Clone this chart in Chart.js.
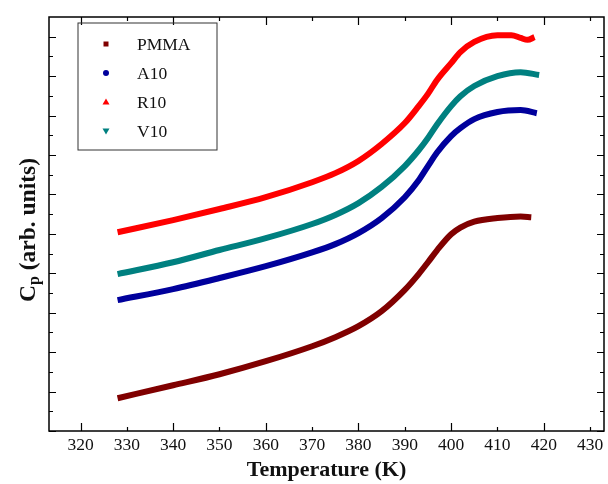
<!DOCTYPE html>
<html>
<head>
<meta charset="utf-8">
<script src="https://cdn.jsdelivr.net/npm/chart.js@4.4.1/dist/chart.umd.min.js"></script>
<style>
	html, body { margin: 0; padding: 0; background: #fff; }
	#wrap { width: 608px; height: 484px; }
</style>
</head>
<body>
<div id="wrap"><canvas id="cp-chart"></canvas></div>
<script>
// series data
const seriesLabels = [ 'PMMA', 'A10', 'R10', 'V10' ];
const seriesColors = [ '#800000', '#00009c', '#ff0000', '#008080' ];
const seriesMarkers = [ 'rect', 'circle', 'triangle', 'triangleDown' ];

const pmmaT = [ 328, 340, 350, 360, 370, 375, 380, 385, 390, 393, 395, 397, 400, 402, 405, 410, 415, 417.3 ];
const pmmaCp = [ 0.83, 1.16, 1.44, 1.77, 2.15, 2.38, 2.66, 3.04, 3.58, 3.98, 4.28, 4.59, 4.99, 5.16, 5.31, 5.40, 5.44, 5.42 ];

const a10T = [ 328, 340, 350, 360, 370, 375, 380, 385, 390, 393, 395, 397, 400, 402, 405, 410, 415, 418.5 ];
const a10Cp = [ 3.32, 3.60, 3.88, 4.18, 4.53, 4.74, 5.02, 5.40, 5.93, 6.36, 6.72, 7.07, 7.48, 7.68, 7.91, 8.09, 8.14, 8.06 ];

const r10T = [ 328, 340, 350, 360, 370, 375, 380, 385, 390, 393, 395, 397, 400, 402, 405, 410, 413, 415, 416.5, 418 ];
const r10Cp = [ 5.04, 5.35, 5.63, 5.93, 6.31, 6.54, 6.85, 7.28, 7.81, 8.24, 8.55, 8.91, 9.33, 9.61, 9.87, 10.04, 10.04, 9.97, 9.92, 9.99 ];

const v10T = [ 328, 340, 350, 360, 370, 375, 380, 385, 390, 393, 395, 397, 400, 402, 405, 410, 415, 419 ];
const v10Cp = [ 3.98, 4.28, 4.59, 4.89, 5.25, 5.48, 5.78, 6.19, 6.72, 7.12, 7.43, 7.78, 8.24, 8.49, 8.75, 9.00, 9.10, 9.03 ];

// axis ticks
const xTicks = [ 320, 330, 340, 350, 360, 370, 380, 390, 400, 410, 420, 430 ];
const yTicks = [ 0, 0.5, 1, 1.5, 2, 2.5, 3, 3.5, 4, 4.5, 5, 5.5, 6, 6.5, 7, 7.5, 8, 8.5, 9, 9.5, 10 ];

const serifFont = '"Liberation Serif", "Times New Roman", serif';

function toPoints( xs, ys ) {
	return xs.map( ( x, i ) => ( { x: x, y: ys[ i ] } ) );
}

const seriesData = [
	toPoints( pmmaT, pmmaCp ),
	toPoints( a10T, a10Cp ),
	toPoints( r10T, r10Cp ),
	toPoints( v10T, v10Cp ),
];

// frame, inward ticks, legend box and y title
const framePlugin = {
	id: 'frame',
	afterDraw( chart ) {
		const c = chart.ctx;
		const area = chart.chartArea;
		const xs = chart.scales.x;
		const ys = chart.scales.y;
		c.save();
		c.strokeStyle = '#000';
		c.lineWidth = 1.5;
		c.strokeRect( area.left, area.top, area.right - area.left, area.bottom - area.top );

		c.lineWidth = 1.2;
		c.beginPath();
		xTicks.forEach( ( v, i ) => {
			const px = Math.round( xs.getPixelForValue( v ) ) + 0.5;
			const len = i % 2 === 0 ? 8 : 4;
			c.moveTo( px, area.bottom );
			c.lineTo( px, area.bottom - len );
			c.moveTo( px, area.top );
			c.lineTo( px, area.top + len );
		} );
		yTicks.forEach( ( v, i ) => {
			const py = Math.round( ys.getPixelForValue( v ) ) + 0.5;
			const len = i % 2 === 0 ? 7 : 4;
			c.moveTo( area.left, py );
			c.lineTo( area.left + len, py );
			c.moveTo( area.right, py );
			c.lineTo( area.right - len, py );
		} );
		c.stroke();

		// legend
		c.lineWidth = 1;
		c.strokeStyle = '#333';
		c.strokeRect( 78, 23, 139, 127 );
		const rowsY = [ 44, 73, 102, 131 ];
		c.font = '17.5px ' + serifFont;
		c.textBaseline = 'middle';
		c.textAlign = 'left';
		seriesLabels.forEach( ( label, i ) => {
			const mx = 106;
			const my = rowsY[ i ];
			c.fillStyle = seriesColors[ i ];
			c.beginPath();
			if ( seriesMarkers[ i ] === 'rect' ) {
				c.rect( mx - 2.5, my - 2.5, 5, 5 );
			} else if ( seriesMarkers[ i ] === 'circle' ) {
				c.arc( mx, my, 3, 0, Math.PI * 2 );
			} else if ( seriesMarkers[ i ] === 'triangle' ) {
				c.moveTo( mx, my - 3.5 );
				c.lineTo( mx + 3.5, my + 2.5 );
				c.lineTo( mx - 3.5, my + 2.5 );
				c.closePath();
			} else {
				c.moveTo( mx, my + 3.5 );
				c.lineTo( mx + 3.5, my - 2.5 );
				c.lineTo( mx - 3.5, my - 2.5 );
				c.closePath();
			}
			c.fill();
			c.fillStyle = '#111';
			c.fillText( label, 137, my + 1 );
		} );

		// y axis title with subscript
		c.translate( 27, 230 );
		c.rotate( -Math.PI / 2 );
		c.fillStyle = '#111';
		c.textBaseline = 'alphabetic';
		const main = 'C';
		const sub = 'p';
		const rest = ' (arb. units)';
		c.font = 'bold 23.5px ' + serifFont;
		const wMain = c.measureText( main ).width;
		const wRest = c.measureText( rest ).width;
		c.font = 'bold 16px ' + serifFont;
		const wSub = c.measureText( sub ).width;
		let x0 = -( wMain + wSub + wRest ) / 2;
		c.font = 'bold 23.5px ' + serifFont;
		c.fillText( main, x0, 8 );
		x0 += wMain;
		c.font = 'bold 16px ' + serifFont;
		c.fillText( sub, x0, 12 );
		x0 += wSub;
		c.font = 'bold 23.5px ' + serifFont;
		c.fillText( rest, x0, 8 );
		c.restore();
	},
};

new Chart( document.getElementById( 'cp-chart' ), {
	type: 'scatter',
	data: {
		datasets: seriesLabels.map( ( label, i ) => ( {
			label: label,
			data: seriesData[ i ],
			showLine: true,
			borderColor: seriesColors[ i ],
			backgroundColor: seriesColors[ i ],
			borderWidth: 6,
			pointRadius: 0,
			tension: 0.4,
			cubicInterpolationMode: 'monotone',
		} ) ),
	},
	options: {
		responsive: true,
		maintainAspectRatio: false,
		animation: false,
		layout: { padding: { top: 17, right: 4, left: 0, bottom: 0 } },
		plugins: {
			legend: { display: false },
			tooltip: { enabled: false },
		},
		scales: {
			x: {
				type: 'linear',
				min: 313.2,
				max: 433,
				afterFit: scale => { scale.height = 53; },
				afterBuildTicks: scale => { scale.ticks = xTicks.map( v => ( { value: v } ) ); },
				grid: { display: false, drawTicks: false },
				border: { display: false },
				ticks: {
					padding: 4,
					color: '#111',
					maxRotation: 0,
					autoSkip: false,
					font: { family: serifFont, size: 17.5 },
				},
				title: {
					display: true,
					text: 'Temperature (K)',
					color: '#111',
					padding: { top: 0, bottom: 0 },
					font: { family: serifFont, size: 22, weight: 'bold' },
				},
			},
			y: {
				type: 'linear',
				min: 0,
				max: 10.5,
				afterFit: scale => { scale.width = 49; },
				grid: { display: false, drawTicks: false },
				border: { display: false },
				ticks: { display: false },
			},
		},
	},
	plugins: [ framePlugin ],
} );
</script>
</body>
</html>
